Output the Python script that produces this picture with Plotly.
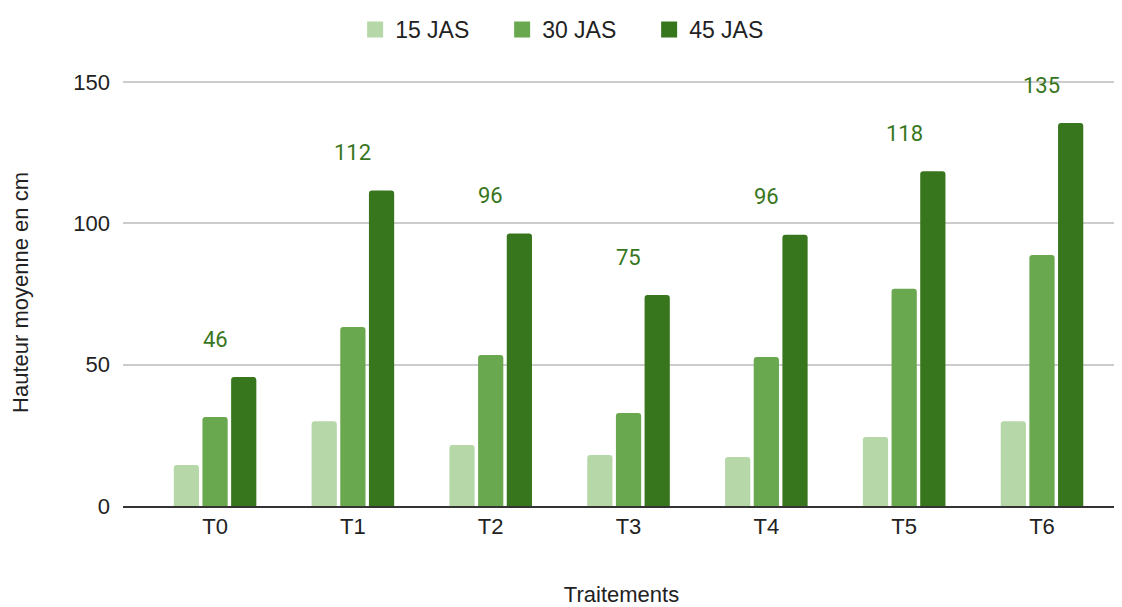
import plotly.graph_objects as go

categories = ["T0", "T1", "T2", "T3", "T4", "T5", "T6"]
jas15 = [14.5, 30, 21.6, 18, 17.3, 24.4, 30]
jas30 = [31.5, 63.3, 53.4, 32.9, 52.7, 76.8, 88.8]
jas45 = [45.6, 111.6, 96.4, 74.6, 95.9, 118.4, 135.4]
series_names = ["15 JAS", "30 JAS", "45 JAS"]
colors = ["#b6d7a8", "#6aa84f", "#38761d"]

fig = go.Figure()
for name, vals, col in zip(series_names, [jas15, jas30, jas45], colors):
    fig.add_trace(go.Bar(x=categories, y=vals, name=name, marker_color=col,
                         marker_line_width=0, showlegend=False))
# legend entries with larger square symbols
for name, col in zip(series_names, colors):
    fig.add_trace(go.Scatter(x=[None], y=[None], mode="markers", name=name,
                             marker=dict(symbol="square", size=22, color=col)))

for c, v in zip(categories, jas45):
    fig.add_annotation(x=c, y=v, text=str(round(v)), showarrow=False,
                       yshift=38,
                       font=dict(family="Roboto", size=22, color="#38761d"))

fig.update_layout(
    width=1122, height=607,
    margin=dict(l=115, r=10, t=71, b=109),
    paper_bgcolor="white", plot_bgcolor="white",
    barmode="group", bargap=0.376, bargroupgap=0.12,
    barcornerradius=3,
    font=dict(family="Liberation Sans, Arial", size=22, color="#222222"),
    legend=dict(orientation="h", x=0.454, xanchor="center", y=1.0, yanchor="top",
                yref="container", font=dict(size=23), itemwidth=30,
                entrywidth=102, traceorder="normal"),
    xaxis=dict(range=[-0.668, 6.566], showgrid=False, showline=True,
               linecolor="#333333", linewidth=2, ticks="", automargin=False,
               title=dict(text="Traitements", standoff=48, font=dict(size=22))),
    yaxis=dict(range=[0, 151], tickvals=[0, 50, 100, 150], showgrid=True,
               gridcolor="#cccccc", gridwidth=1.5, zeroline=False, ticks="",
               ticklabelstandoff=12, automargin=False,
               title=dict(text="Hauteur moyenne en cm", standoff=38, font=dict(size=22))),
)
fig.write_html("out.html")
